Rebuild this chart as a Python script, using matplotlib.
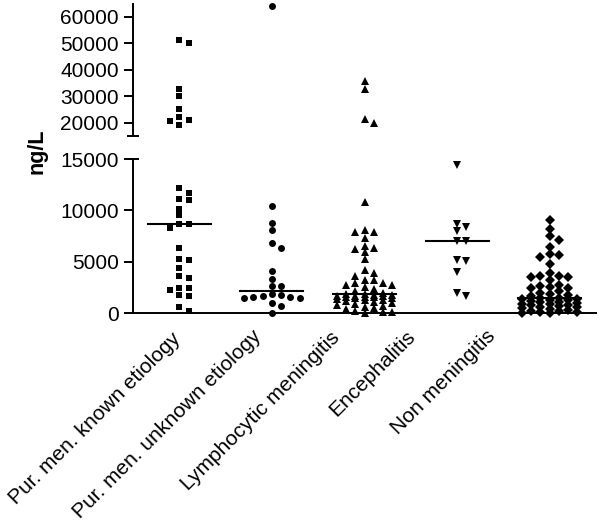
"""Dot plot of CSF marker (ng/L) by diagnosis group, broken y axis.

Two stacked axes share x: lower 0-15000, upper 15000-65000.
Points are laid out in columns (GraphPad style), black median bars.
"""

import numpy as np
import matplotlib
matplotlib.use("Agg")
import matplotlib.pyplot as plt

plt.rcParams["font.family"] = ["Liberation Sans", "DejaVu Sans"]

CATEGORIES = ["Pur. men. known etiology", "Pur. men. unknown etiology",
              "Lymphocytic meningitis", "Encephalitis", "Non meningitis"]
MARKERS = ["s", "o", "^", "v", "D"]

pur_known = [51300, 50000, 32800, 30000, 25100, 22000, 21100, 20700, 19200,
             12160, 11700, 11090, 11060, 10110, 9520, 8700, 8700, 8250,
             6360, 5280, 5150, 4430, 3580, 3450, 2480, 2410, 2310, 1820,
             1660, 590, 250]
pur_unknown = [64150, 10400, 8740, 8050, 6880, 6360, 4140, 3330, 2700,
               2670, 1890, 1760, 1720, 1620, 1620, 1500, 1470, 1040, 710, 0]
lymph = [35850, 32720, 21280, 20000,
         10820, 8120, 7930, 7860, 7300, 6560, 6320, 6260, 6000, 5280, 4170,
         3910, 3620, 3190, 3190, 2960, 2930, 2770, 2770, 2540,
         2400, 2200, 2000, 1890, 1850, 1800, 1750, 1700, 1700, 1650, 1600,
         1600, 1550, 1500, 1450, 1400, 1300, 1250, 1200, 1100, 1000, 900,
         800, 700, 650, 500, 400, 250, 150, 100, 50]
enceph = [14410, 8670, 8410, 7980, 7000, 7000, 5190, 5090, 3970, 2020, 1690]
non_men = [9060, 8150, 7560, 7100, 6460, 5800, 5700, 5480, 4790, 3910, 3650,
           3620, 3550, 3550, 3230, 2770, 2700, 2540, 2440, 2440, 2180, 2020,
           1900, 1800, 1700, 1500, 1450, 1400, 1350, 1300, 1250, 1200, 1100,
           1050, 1000, 950, 900, 850, 800, 700, 650, 600, 550, 400, 300, 250,
           200, 150, 100, 50, 0]
medians = [8670, 2210, 1890, 6980, 1530]

GROUPS = [pur_known, pur_unknown, lymph, enceph, non_men]
BREAK = 15000

W, H = 600, 526
# baseline end of each rotated category label, in figure pixels
# (the labels in the source sit on a tighter pitch than the data columns)
LABEL_ENDS = [(182, 340), (262, 337), (341, 339), (416, 337), (496, 337)]


def columns(vals, thresh, step=0.1, maxcol=3):
    """Greedy column layout: highest value first, nearest free column."""
    vals = np.asarray(vals, float)
    offs = np.zeros(len(vals))
    cols = {}
    order = [0]
    for k in range(1, maxcol + 1):
        order += [k, -k]
    for i in np.argsort(-vals, kind="stable"):
        v = vals[i]
        best, best_gap = 0, -1
        for k in order:
            gap = min([abs(v - u) for u in cols.get(k, [])] or [np.inf])
            if gap >= thresh:
                best = k
                break
            if gap > best_gap:
                best, best_gap = k, gap
        cols.setdefault(best, []).append(v)
        offs[i] = best * step
    return offs


fig = plt.figure(figsize=(W / 100, H / 100), dpi=100)
ax_lo = fig.add_axes([0.2217, 0.4044, 0.7716, 0.2933])
ax_hi = fig.add_axes([0.2217, 0.742, 0.7716, 0.2498])

for i, (vals, mk) in enumerate(zip(GROUPS, MARKERS)):
    vals = np.asarray(vals, float)
    lo = vals[vals <= BREAK]
    hi = vals[vals > BREAK]
    ms = {"s": 5.0, "o": 5.0, "^": 5.8, "v": 5.8, "D": 4.8}[mk]
    if len(lo):
        ax_lo.plot(i + columns(lo, 560), lo, mk, color="black", ms=ms,
                   mew=0, clip_on=False, zorder=3)
    if len(hi):
        ax_hi.plot(i + columns(hi, 2500), hi, mk, color="black", ms=ms,
                   mew=0, clip_on=False, zorder=3)
    ax_lo.plot([i - 0.34, i + 0.34], [medians[i]] * 2, color="black",
               lw=1.5, zorder=4)

for ax in (ax_lo, ax_hi):
    ax.set_xlim(-0.5, 4.5)
    for s in ("top", "right"):
        ax.spines[s].set_visible(False)
    ax.spines["left"].set_linewidth(1.4)
    ax.tick_params(axis="y", length=6.7, width=1.4, labelsize=15, pad=3.5)

ax_lo.set_ylim(0, 15000)
ax_lo.set_yticks([0, 5000, 10000, 15000])
ax_lo.spines["bottom"].set_linewidth(1.4)
ax_lo.set_xticks([])

ax_hi.set_ylim(15100, 64700)
ax_hi.set_yticks([20000, 30000, 40000, 50000, 60000])
ax_hi.spines["bottom"].set_visible(False)
ax_hi.set_xticks([])

# break marks: short bars across the spine at the cut
ax_hi.plot([0], [0], marker="_", ms=8, mew=1.4, color="black",
           transform=ax_hi.transAxes, clip_on=False)
ax_lo.plot([0], [1], marker="_", ms=8, mew=1.4, color="black",
           transform=ax_lo.transAxes, clip_on=False)

for name, (px, py) in zip(CATEGORIES, LABEL_ENDS):
    fig.text(px / W, 1 - py / H, name, rotation=45, ha="right",
             va="baseline", rotation_mode="anchor", fontsize=15)

fig.text(37 / W, 1 - 151 / H, "ng/L", rotation=90, ha="center",
         va="center", fontsize=15.5, fontweight="bold")

fig.savefig("out.png", dpi=100)
